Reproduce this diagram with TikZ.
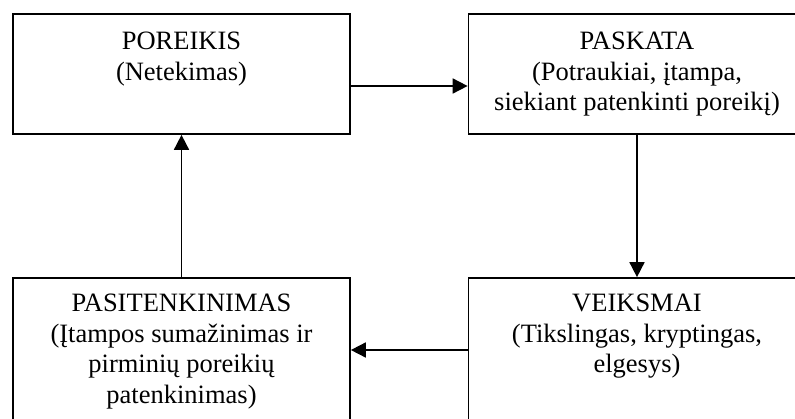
\documentclass[tikz,border=0pt]{standalone}
\usepackage{fontspec}
\setmainfont{Liberation Serif}
\usetikzlibrary{arrows.meta}
\tikzset{
  stagebox/.style={draw, line width=1.7pt, minimum width=337pt, minimum height=120pt, inner sep=0pt},
  lowbox/.style={stagebox, minimum height=144pt},
  stagetext/.style={anchor=north, inner sep=0pt, align=center,
    font=\fontsize{26.5}{30.5}\selectfont},
  arr/.style={line width=1.7pt, -{Triangle[length=15pt,width=15pt]}}
}
\begin{document}
\begin{tikzpicture}[x=1pt, y=-1pt]
  \useasboundingbox (0,0) rectangle (795,418);
  \clip (0,0) rectangle (795,418);

  % four stages of the cycle
  \node[stagebox] (need)  at (181.5,74)  {};
  \node[stagebox] (drive) at (637,74)    {};
  \node[lowbox]   (act)   at (637,350)   {};
  \node[lowbox]   (sat)   at (181.5,350) {};

  \node[stagetext] (needT)  at ([yshift=-19pt]need.north)  {POREIKIS\\(Netekimas)};
  \node[stagetext] (driveT) at ([yshift=-19pt]drive.north) {PASKATA\\(Potraukiai, įtampa,\\siekiant patenkinti poreikį)};
  \node[stagetext] (actT)   at ([yshift=-17pt]act.north)   {VEIKSMAI\\(Tikslingas, kryptingas,\\elgesys)};
  \node[stagetext] (satT)   at ([yshift=-17pt]sat.north)   {PASITENKINIMAS\\(Įtampos sumažinimas ir\\pirminių poreikių\\patenkinimas)};

  % cycle arrows
  \draw[arr] ([yshift=-12pt]need.east) -- ([yshift=-12pt]drive.west);
  \draw[arr] (drive.south) -- (act.north);
  \draw[arr] (act.west) -- (sat.east);
  \draw[arr] (sat.north) -- (need.south);
\end{tikzpicture}
\end{document}
